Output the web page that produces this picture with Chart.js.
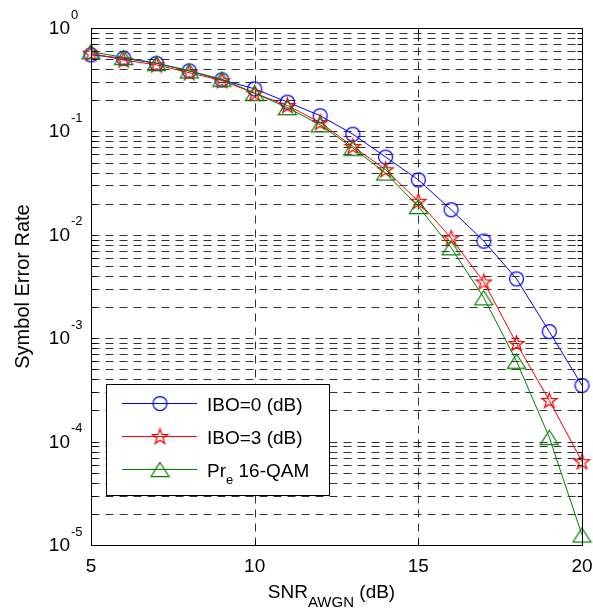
<!DOCTYPE html>
<html>
<head>
<meta charset="utf-8">
<script src="https://cdn.jsdelivr.net/npm/chart.js@4"></script>
<style>
  body { margin: 0; background: #fff; }
  canvas { display: block; }
</style>
</head>
<body>
<canvas id="serChart" width="593" height="612"></canvas>
<script>
// values
const snr = [5, 6, 7, 8, 9, 10, 11, 12, 13, 14, 15, 16, 17, 18, 19, 20];
const serIbo0 = [0.55, 0.51, 0.456, 0.385, 0.315, 0.258, 0.192, 0.142, 0.094, 0.0565, 0.034, 0.0175, 0.0087, 0.00375, 0.00116, 0.00035];
const serIbo3 = [0.57, 0.49, 0.44, 0.37, 0.31, 0.234, 0.178, 0.122, 0.0715, 0.0426, 0.0211, 0.0093, 0.0035, 0.00089, 0.00025, 0.000064];
const serPre16qam = [0.59, 0.52, 0.456, 0.385, 0.32, 0.234, 0.17, 0.116, 0.069, 0.0396, 0.0188, 0.0075, 0.00246, 0.0006, 0.00011, 0.0000125];

const xTicks = [5, 10, 15, 20];
const yExponents = [0, -1, -2, -3, -4, -5];

const FONT = "'Liberation Sans', Arial, sans-serif";

// marker images (MATLAB style outlines)
function makeMarker(kind, color) {
    const c = document.createElement("canvas");
    const g = c.getContext("2d");
    g.strokeStyle = color;
    g.lineWidth = 1.25;
    if (kind === "circle") {
        c.width = 17; c.height = 17;
        g.strokeStyle = color; g.lineWidth = 1.25;
        g.beginPath(); g.arc(8.5, 8.5, 7, 0, Math.PI * 2); g.stroke();
    } else if (kind === "star") {
        c.width = 19; c.height = 19;
        g.strokeStyle = color; g.lineWidth = 1.25;
        g.beginPath();
        for (let i = 0; i < 10; i++) {
            const r = i % 2 === 0 ? 8 : 3.2;
            const a = -Math.PI / 2 + i * Math.PI / 5;
            const px = 9.5 + r * Math.cos(a), py = 10 + r * Math.sin(a);
            if (i === 0) g.moveTo(px, py); else g.lineTo(px, py);
        }
        g.closePath(); g.stroke();
    } else {
        c.width = 21; c.height = 17;
        g.strokeStyle = color; g.lineWidth = 1.25;
        g.beginPath();
        g.moveTo(10.5, 1.5); g.lineTo(19.5, 15.5); g.lineTo(1.5, 15.5);
        g.closePath(); g.stroke();
    }
    return c;
}

const blue = "#0000ff", red = "#ff0000", green = "#008000";
const circleImg = makeMarker("circle", blue);
const starImg = makeMarker("star", red);
const triImg = makeMarker("triangle", green);

function toPoints(ys) {
    return snr.map((x, i) => ({ x: x, y: ys[i] }));
}

const legendItems = [
    { color: blue, img: circleImg, parts: [["IBO=0 (dB)", 0]] },
    { color: red, img: starImg, parts: [["IBO=3 (dB)", 0]] },
    { color: green, img: triImg, parts: [["Pr", 0], ["e", 1], [" 16-QAM", 0]] }
];

const matlabAxes = {
    id: "matlabAxes",
    beforeDatasetsDraw(chart) {
        const ctx = chart.ctx;
        const a = chart.chartArea;
        const xs = chart.scales.x, ys = chart.scales.y;
        const L = Math.floor(a.left) + 0.5, R = Math.floor(a.right) + 0.5;
        const T = Math.floor(a.top) + 0.5, B = Math.floor(a.bottom) + 0.5;
        ctx.save();
        ctx.fillStyle = "#fff";
        ctx.fillRect(a.left, a.top, a.right - a.left, a.bottom - a.top);
        ctx.strokeStyle = "rgba(0,0,0,0.8)";
        ctx.lineWidth = 1;
        ctx.setLineDash([8, 6]);
        // horizontal grid at every log tick
        for (let e = -5; e < 0; e++) {
            for (let k = 1; k <= 9; k++) {
                const y = Math.round(ys.getPixelForValue(k * Math.pow(10, e))) + 0.5;
                ctx.beginPath(); ctx.moveTo(L, y); ctx.lineTo(R, y); ctx.stroke();
            }
        }
        // vertical grid
        xTicks.forEach(v => {
            const x = Math.round(xs.getPixelForValue(v)) + 0.5;
            ctx.beginPath(); ctx.moveTo(x, B); ctx.lineTo(x, T); ctx.stroke();
        });
        ctx.restore();
    },
    afterDatasetsDraw(chart) {
        const ctx = chart.ctx;
        const a = chart.chartArea;
        const xs = chart.scales.x, ys = chart.scales.y;
        const L = Math.floor(a.left) + 0.5, R = Math.floor(a.right) + 0.5;
        const T = Math.floor(a.top) + 0.5, B = Math.floor(a.bottom) + 0.5;
        ctx.save();
        ctx.strokeStyle = "#000";
        ctx.lineWidth = 1;
        ctx.setLineDash([]);
        ctx.strokeRect(L, T, R - L, B - T);

        // tick marks
        ctx.beginPath();
        for (let e = -5; e < 0; e++) {
            for (let k = 1; k <= 9; k++) {
                const y = Math.round(ys.getPixelForValue(k * Math.pow(10, e))) + 0.5;
                ctx.moveTo(L, y); ctx.lineTo(L + 5, y);
                ctx.moveTo(R, y); ctx.lineTo(R - 5, y);
            }
        }
        xTicks.forEach(v => {
            const x = Math.round(xs.getPixelForValue(v)) + 0.5;
            ctx.moveTo(x, B); ctx.lineTo(x, B - 5);
            ctx.moveTo(x, T); ctx.lineTo(x, T + 5);
        });
        ctx.stroke();

        ctx.fillStyle = "#000";
        // y tick labels 10^n
        yExponents.forEach(e => {
            const y = ys.getPixelForValue(Math.pow(10, e));
            ctx.font = "19px " + FONT;
            ctx.textAlign = "right";
            ctx.textBaseline = "alphabetic";
            ctx.fillText("10", 70, y + 6);
            ctx.font = "13px " + FONT;
            ctx.textAlign = "left";
            ctx.fillText(String(e), 71, y - 9.5);
        });

        // x tick labels
        ctx.font = "19px " + FONT;
        ctx.textAlign = "center";
        xTicks.forEach(v => {
            ctx.fillText(String(v), xs.getPixelForValue(v), 572);
        });

        // x title: SNR_AWGN (dB)
        const titleParts = [["SNR", 19, 0], ["AWGN", 15, 9], [" (dB)", 19, 0]];
        let total = 0;
        titleParts.forEach(p => { ctx.font = p[1] + "px " + FONT; total += ctx.measureText(p[0]).width; });
        let tx = (a.left + a.right) / 2 - 5 - total / 2;
        ctx.textAlign = "left";
        titleParts.forEach(p => {
            ctx.font = p[1] + "px " + FONT;
            ctx.fillText(p[0], tx, 598 + p[2]);
            tx += ctx.measureText(p[0]).width;
        });

        // y title
        ctx.save();
        ctx.translate(29, (a.top + a.bottom) / 2);
        ctx.rotate(-Math.PI / 2);
        ctx.font = "20px " + FONT;
        ctx.textAlign = "center";
        ctx.fillText("Symbol Error Rate", 0, 0);
        ctx.restore();

        // legend box
        ctx.fillStyle = "#fff";
        ctx.fillRect(106.5, 384.5, 223, 111);
        ctx.strokeStyle = "#000";
        ctx.strokeRect(106.5, 384.5, 223, 111);
        legendItems.forEach((item, i) => {
            const y = 403.5 + i * 33;
            ctx.strokeStyle = item.color;
            ctx.beginPath(); ctx.moveTo(122, y); ctx.lineTo(197, y); ctx.stroke();
            ctx.drawImage(item.img, 160 - item.img.width / 2, Math.round(y - item.img.height / 2));
            ctx.fillStyle = "#000";
            let lx = 207;
            item.parts.forEach(p => {
                ctx.font = (p[1] ? 13 : 19) + "px " + FONT;
                ctx.fillText(p[0], lx, y + 7 + (p[1] ? 7 : 0));
                lx += ctx.measureText(p[0]).width;
            });
        });
        ctx.restore();
    }
};

new Chart(document.getElementById("serChart"), {
    type: "line",
    data: {
        datasets: [
            { label: "IBO=0 (dB)", data: toPoints(serIbo0), borderColor: blue, borderWidth: 1,
              pointStyle: circleImg, pointRadius: 7, tension: 0, clip: false, order: 3 },
            { label: "IBO=3 (dB)", data: toPoints(serIbo3), borderColor: red, borderWidth: 1,
              pointStyle: starImg, pointRadius: 7, tension: 0, clip: false, order: 2 },
            { label: "Pre 16-QAM", data: toPoints(serPre16qam), borderColor: green, borderWidth: 1,
              pointStyle: triImg, pointRadius: 7, tension: 0, clip: false, order: 1 }
        ]
    },
    options: {
        responsive: false,
        animation: false,
        devicePixelRatio: 1,
        layout: { padding: { left: 91, right: 11, top: 28, bottom: 67 } },
        plugins: { legend: { display: false }, tooltip: { enabled: false } },
        scales: {
            x: { type: "linear", min: 5, max: 20, display: false },
            y: { type: "logarithmic", min: 1e-5, max: 1, display: false }
        }
    },
    plugins: [matlabAxes]
});
</script>
</body>
</html>
